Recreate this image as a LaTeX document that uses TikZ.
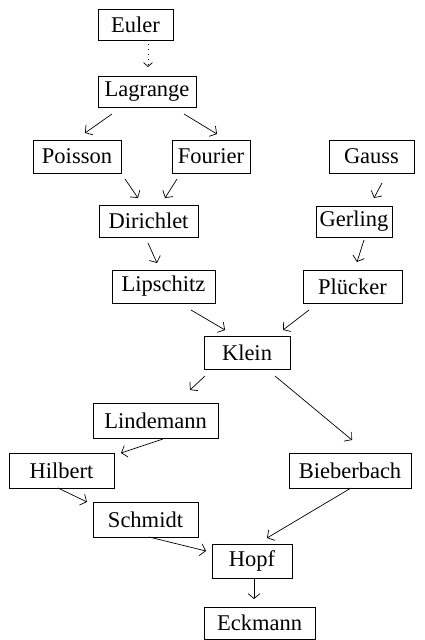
\documentclass[tikz,border=0pt]{standalone}
\usepackage{fontspec}
\setmainfont{Liberation Serif}
\usetikzlibrary{arrows.meta}
\tikzset{
  box/.style={draw, line width=0.8pt, inner sep=0pt, align=center,
    font=\fontsize{22.5}{27}\selectfont},
  arr/.style={line width=0.7pt, -{Straight Barb[length=5pt,width=12pt,line width=0.7pt]}},
  dots/.style={dash pattern=on 1pt off 4pt, -{Straight Barb[length=4pt,width=9pt,line width=0.7pt]}},
}
\newcommand{\bx}[6]{\node[box, minimum width=#4pt, minimum height=#5pt] (#1) at (#2,#3) {#6};}
\newcommand{\ed}[5][]{\draw[arr,#1] ([shift={(#3)}]#2.center) -- ([shift={(#5)}]#4.center);}
\begin{document}
\begin{tikzpicture}[x=1pt,y=-1pt]
\path[use as bounding box] (0,0) rectangle (425,640);
\bx{euler}{135.5}{24.5}{75}{31}{Euler}
\bx{lagrange}{147}{91.5}{98}{31}{Lagrange}
\bx{poisson}{77}{156.5}{88}{33}{Poisson}
\bx{fourier}{211}{156.5}{78}{33}{Fourier}
\bx{gauss}{371.5}{156.5}{85}{33}{Gauss}
\bx{dirichlet}{148.5}{221}{99}{32}{Dirichlet}
\bx{gerling}{354}{221.5}{76}{31}{Gerling}
\bx{lipschitz}{163.5}{286.5}{103}{33}{Lipschitz}
\bx{plucker}{352.5}{286.5}{99}{33}{Plücker}
\bx{klein}{247}{352.5}{86}{33}{Klein}
\bx{lindemann}{155.5}{420.5}{125}{35}{Lindemann}
\bx{hilbert}{61.5}{470.5}{105}{35}{Hilbert}
\bx{bieberbach}{350}{470.5}{122}{35}{Bieberbach}
\bx{schmidt}{145.5}{519.5}{105}{35}{Schmidt}
\bx{hopf}{252}{561}{80}{34}{Hopf}
\bx{eckmann}{259.5}{623}{111}{32}{Eckmann}
\ed[dots]{euler}{12.5,19.5}{lagrange}{1,-24.5}
\ed{lagrange}{-35,22.5}{poisson}{8,-23.5}
\ed{lagrange}{37,22.5}{fourier}{6,-22.5}
\ed{poisson}{48,22.5}{dirichlet}{-10.5,-23}
\ed{fourier}{-34,22.5}{dirichlet}{16.5,-23}
\ed{gauss}{10.5,26.5}{gerling}{20,-23.5}
\ed{gerling}{10,18.5}{plucker}{4.5,-24.5}
\ed{dirichlet}{-0.5,22}{lipschitz}{-6.5,-23.5}
\ed{lipschitz}{27.5,23.5}{klein}{-22,-22.5}
\ed{plucker}{-43.5,23.5}{klein}{36,-22.5}
\ed{klein}{-42,23.5}{lindemann}{34.5,-30.5}
\ed{klein}{28,23.5}{bieberbach}{2,-30.5}
\ed{lindemann}{7.5,18.5}{hilbert}{59.5,-17.5}
\ed{hilbert}{-3.5,17.5}{schmidt}{-58.5,-17.5}
\ed{schmidt}{3.5,17.5}{hopf}{-46,-10}
\ed{bieberbach}{1,17.5}{hopf}{15,-23}
\ed{hopf}{2,17}{eckmann}{-5.5,-24}
\end{tikzpicture}
\end{document}
